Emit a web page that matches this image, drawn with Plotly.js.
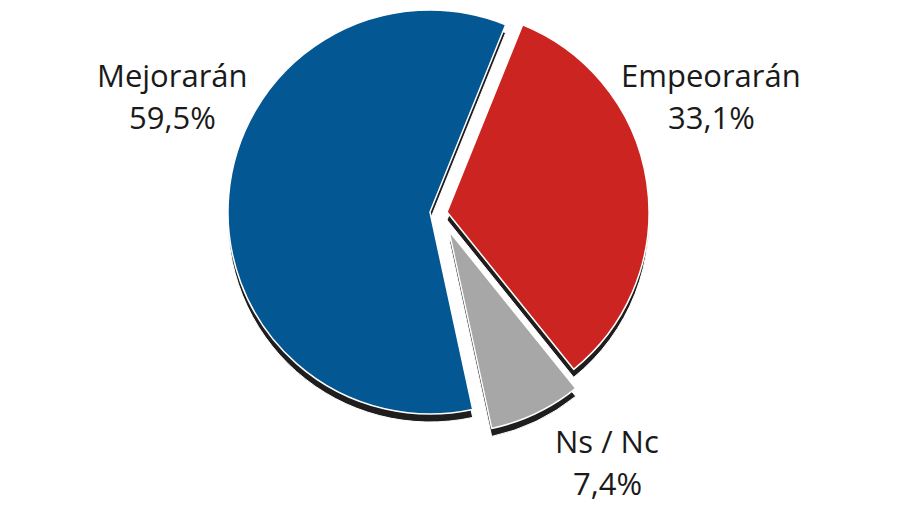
<!DOCTYPE html>
<html>
<head>
<meta charset="utf-8">
<script src="https://cdn.plot.ly/plotly-3.0.1.min.js"></script>
<style>html,body{margin:0;padding:0;background:#fff;}#chart{width:900px;height:507px;}</style>
</head>
<body>
<div id="chart"></div>
<script>
// Data
var labels = ['Empeorarán', 'Ns / Nc', 'Mejorarán'];
var values = [33.1, 7.4, 59.5];
var valueText = ['33,1%', '7,4%', '59,5%'];
var colors = ['#cc2521', '#a7a7a7', '#035893'];

// Layout helpers (pixel geometry)
var W = 900, H = 507, R = 202, SHADOW = 8;
// centre of each slice (exploded)
var centres = [[447, 212], [449, 231], [430, 212]];
var labelPos = [[711, 75], [607, 441], [172, 75]];

function domainFor(cx, cy) {
  return {
    x: [(cx - R) / W, (cx + R) / W],
    y: [1 - (cy + R) / H, 1 - (cy - R) / H]
  };
}

function sliceTrace(i, shadow) {
  var c = centres[i];
  var cols = labels.map(function (_, j) {
    return j === i ? (shadow ? '#1f1d1e' : colors[i]) : 'rgba(0,0,0,0)';
  });
  var lw = labels.map(function (_, j) { return j === i ? (shadow ? 1 : 1.5) : 0; });
  return {
    type: 'pie',
    labels: labels,
    values: values,
    sort: false,
    direction: 'clockwise',
    rotation: 22,
    textinfo: 'none',
    hoverinfo: 'skip',
    showlegend: false,
    marker: { colors: cols, line: { color: '#ffffff', width: lw } },
    domain: domainFor(c[0], c[1] + (shadow ? SHADOW : 0))
  };
}

var data = [];
for (var i = 0; i < labels.length; i++) data.push(sliceTrace(i, true));
for (var k = 0; k < labels.length; k++) data.push(sliceTrace(k, false));

var annotations = [];
labels.forEach(function (lab, i) {
  var p = labelPos[i];
  annotations.push({
    text: lab, x: p[0] / W, y: 1 - p[1] / H, xref: 'paper', yref: 'paper',
    xanchor: 'center', yanchor: 'middle', showarrow: false,
    font: { family: 'Open Sans, sans-serif', size: 31, color: '#1a1a1a' }
  });
  annotations.push({
    text: valueText[i], x: p[0] / W, y: 1 - (p[1] + 42) / H, xref: 'paper', yref: 'paper',
    xanchor: 'center', yanchor: 'middle', showarrow: false,
    font: { family: 'Open Sans, sans-serif', size: 31, color: '#1a1a1a' }
  });
});

var layout = {
  width: W, height: H,
  margin: { l: 0, r: 0, t: 0, b: 0 },
  paper_bgcolor: '#ffffff',
  showlegend: false,
  annotations: annotations
};

Plotly.newPlot('chart', data, layout, { displayModeBar: false, staticPlot: true });
</script>
</body>
</html>
